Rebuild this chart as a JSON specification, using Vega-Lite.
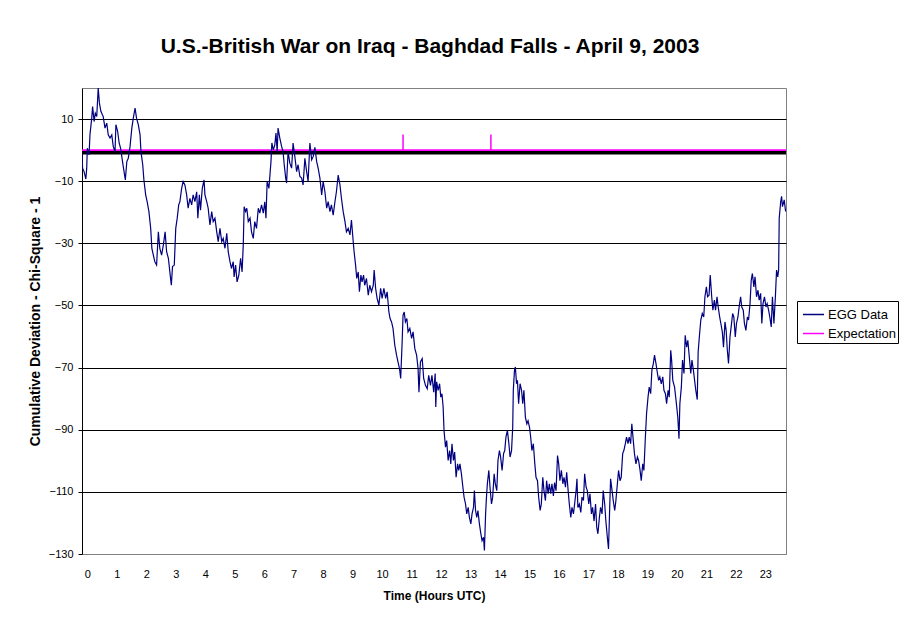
{
"$schema": "https://vega.github.io/schema/vega-lite/v6.json",
"width": 704, "height": 466,
"autosize": {"type": "none"},
"padding": {"left": 82, "top": 88, "right": 125, "bottom": 69},
"background": "white",
"title": {"text": "U.S.-British War on Iraq - Baghdad Falls - April 9, 2003", "font": "Liberation Sans", "fontSize": 21, "fontWeight": "bold", "color": "black", "anchor": "middle", "frame": "group", "baseline": "alphabetic", "offset": 14, "dx": -4},
"config": {
  "view": {"stroke": "#808080", "strokeWidth": 1},
  "font": "Liberation Sans",
  "axis": {"labelFont": "Liberation Sans", "labelFontSize": 11, "labelColor": "black", "titleFont": "Liberation Sans", "titleFontWeight": "bold", "titleColor": "black", "domainColor": "black", "tickColor": "black", "gridColor": "black", "gridOpacity": 1},
  "axisX": {"ticks": false, "grid": false, "domain": false, "labelPadding": 14, "titleFontSize": 12, "titlePadding": 11, "labelAngle": 0, "labelOverlap": false},
  "axisY": {"grid": true, "tickSize": 4, "labelPadding": 5, "titleFontSize": 14, "titlePadding": 6, "domainColor": "black", "labelOverlap": false}
},
"datasets": {
"egg": [
{"hour":-0.18,"value":-1},{"hour":-0.16,"value":-5.8},{"hour":-0.11,"value":-6.9},{"hour":-0.05,"value":-9.3},{"hour":-0.02,"value":-5.8},{"hour":0.0,"value":0.6},{"hour":0.06,"value":-1.5},{"hour":0.09,"value":4.9},{"hour":0.15,"value":10.3},{"hour":0.18,"value":14},
{"hour":0.23,"value":9.2},{"hour":0.27,"value":11.9},{"hour":0.32,"value":10.8},{"hour":0.37,"value":20},{"hour":0.41,"value":15.2},{"hour":0.46,"value":12.5},{"hour":0.54,"value":10.8},{"hour":0.6,"value":7.1},{"hour":0.66,"value":8.7},{"hour":0.71,"value":4.9},
{"hour":0.77,"value":3.9},{"hour":0.83,"value":4.9},{"hour":0.88,"value":1.2},{"hour":0.94,"value":-0.5},{"hour":0.97,"value":8.2},{"hour":1.03,"value":6},{"hour":1.08,"value":2.3},{"hour":1.13,"value":0.6},{"hour":1.17,"value":-2.1},{"hour":1.22,"value":-5.3},
{"hour":1.29,"value":-9.6},{"hour":1.34,"value":-3.7},{"hour":1.39,"value":-2.6},{"hour":1.45,"value":1.2},{"hour":1.51,"value":7.1},{"hour":1.56,"value":10.3},{"hour":1.62,"value":13.5},{"hour":1.67,"value":10.3},{"hour":1.73,"value":8.2},{"hour":1.79,"value":4.9},
{"hour":1.82,"value":-0.5},{"hour":1.88,"value":-4.7},{"hour":1.92,"value":-9.6},{"hour":1.98,"value":-14.4},{"hour":2.03,"value":-16.6},{"hour":2.09,"value":-19.8},{"hour":2.15,"value":-25.2},{"hour":2.19,"value":-31.6},{"hour":2.24,"value":-33.8},{"hour":2.29,"value":-35.9},
{"hour":2.35,"value":-37},{"hour":2.41,"value":-26.3},{"hour":2.46,"value":-31.6},{"hour":2.52,"value":-33.8},{"hour":2.58,"value":-30.5},{"hour":2.64,"value":-26.3},{"hour":2.69,"value":-32.7},{"hour":2.75,"value":-34.8},{"hour":2.8,"value":-39.2},{"hour":2.85,"value":-43.5},
{"hour":2.89,"value":-37.5},{"hour":2.95,"value":-37},{"hour":3.0,"value":-25.2},{"hour":3.05,"value":-21.9},{"hour":3.1,"value":-17.6},{"hour":3.14,"value":-16.6},{"hour":3.2,"value":-12.3},{"hour":3.25,"value":-10.1},{"hour":3.31,"value":-11.2},{"hour":3.37,"value":-14.4},
{"hour":3.42,"value":-18.7},{"hour":3.48,"value":-15.5},{"hour":3.54,"value":-17.6},{"hour":3.59,"value":-14.4},{"hour":3.65,"value":-16.6},{"hour":3.71,"value":-13.4},{"hour":3.75,"value":-21.9},{"hour":3.8,"value":-14.4},{"hour":3.84,"value":-19.3},{"hour":3.9,"value":-12.3},
{"hour":3.96,"value":-9.6},{"hour":3.99,"value":-14.4},{"hour":4.05,"value":-16.6},{"hour":4.1,"value":-18.7},{"hour":4.16,"value":-24.1},{"hour":4.22,"value":-19.8},{"hour":4.27,"value":-23},{"hour":4.33,"value":-21.9},{"hour":4.39,"value":-26.3},{"hour":4.44,"value":-29.5},
{"hour":4.5,"value":-25.2},{"hour":4.56,"value":-29.5},{"hour":4.61,"value":-28.4},{"hour":4.67,"value":-31.6},{"hour":4.73,"value":-26.8},{"hour":4.78,"value":-32.7},{"hour":4.84,"value":-35.9},{"hour":4.89,"value":-38.1},{"hour":4.95,"value":-35.9},{"hour":4.98,"value":-40.8},
{"hour":5.03,"value":-37},{"hour":5.08,"value":-42.4},{"hour":5.14,"value":-40.2},{"hour":5.2,"value":-34.8},{"hour":5.25,"value":-39.2},{"hour":5.29,"value":-30.5},{"hour":5.32,"value":-18.2},{"hour":5.37,"value":-19.8},{"hour":5.41,"value":-18.7},{"hour":5.46,"value":-23},
{"hour":5.52,"value":-21.9},{"hour":5.57,"value":-26.3},{"hour":5.63,"value":-28.4},{"hour":5.68,"value":-23},{"hour":5.74,"value":-25.2},{"hour":5.8,"value":-18.7},{"hour":5.85,"value":-20.3},{"hour":5.91,"value":-17.6},{"hour":5.97,"value":-20.3},{"hour":6.02,"value":-16.6},
{"hour":6.06,"value":-21.9},{"hour":6.1,"value":-10.1},{"hour":6.16,"value":-12.3},{"hour":6.2,"value":-7.4},{"hour":6.23,"value":-3.7},{"hour":6.26,"value":2.3},{"hour":6.31,"value":0.1},{"hour":6.36,"value":1.7},{"hour":6.4,"value":5.5},{"hour":6.44,"value":-0.5},
{"hour":6.47,"value":7.1},{"hour":6.53,"value":3.9},{"hour":6.59,"value":1.2},{"hour":6.64,"value":-0.5},{"hour":6.68,"value":-4.7},{"hour":6.73,"value":-9},{"hour":6.76,"value":-10.6},{"hour":6.81,"value":-0.5},{"hour":6.87,"value":-4.2},{"hour":6.93,"value":-5.8},
{"hour":6.98,"value":2.3},{"hour":7.04,"value":-2.1},{"hour":7.1,"value":-6.9},{"hour":7.15,"value":-4.7},{"hour":7.21,"value":-8.5},{"hour":7.27,"value":-9},{"hour":7.32,"value":-11.2},{"hour":7.38,"value":-2.6},{"hour":7.44,"value":-6.9},{"hour":7.49,"value":-10.1},
{"hour":7.55,"value":2.3},{"hour":7.61,"value":-3.1},{"hour":7.66,"value":-2.1},{"hour":7.72,"value":0.9},{"hour":7.78,"value":-3.7},{"hour":7.83,"value":-5.8},{"hour":7.89,"value":-9},{"hour":7.95,"value":-14.4},{"hour":8.0,"value":-10.1},{"hour":8.06,"value":-13.4},
{"hour":8.12,"value":-18.7},{"hour":8.17,"value":-16.6},{"hour":8.23,"value":-19.8},{"hour":8.28,"value":-17.6},{"hour":8.34,"value":-20.9},{"hour":8.4,"value":-16.6},{"hour":8.45,"value":-13.4},{"hour":8.51,"value":-8},{"hour":8.57,"value":-11.2},{"hour":8.62,"value":-15.5},
{"hour":8.68,"value":-19.8},{"hour":8.74,"value":-23},{"hour":8.79,"value":-26.3},{"hour":8.85,"value":-25.2},{"hour":8.91,"value":-27.3},{"hour":8.96,"value":-22.5},{"hour":9.02,"value":-29.5},{"hour":9.05,"value":-32.7},{"hour":9.1,"value":-37},{"hour":9.14,"value":-41.3},
{"hour":9.19,"value":-39.2},{"hour":9.23,"value":-45.6},{"hour":9.28,"value":-40.2},{"hour":9.32,"value":-42.4},{"hour":9.37,"value":-40.2},{"hour":9.41,"value":-43.5},{"hour":9.47,"value":-41.3},{"hour":9.53,"value":-46.7},{"hour":9.58,"value":-43.5},{"hour":9.64,"value":-45.6},
{"hour":9.7,"value":-43.5},{"hour":9.73,"value":-38.6},{"hour":9.78,"value":-44.5},{"hour":9.83,"value":-47.7},{"hour":9.89,"value":-49.9},{"hour":9.95,"value":-44.5},{"hour":10.0,"value":-47.7},{"hour":10.06,"value":-44.5},{"hour":10.12,"value":-47.7},{"hour":10.17,"value":-45.6},
{"hour":10.23,"value":-52.1},{"hour":10.27,"value":-54.2},{"hour":10.32,"value":-55.3},{"hour":10.37,"value":-57.4},{"hour":10.43,"value":-62.8},{"hour":10.49,"value":-66},{"hour":10.54,"value":-68.2},{"hour":10.59,"value":-70.3},{"hour":10.63,"value":-73.5},{"hour":10.68,"value":-61.7},
{"hour":10.71,"value":-53.1},{"hour":10.75,"value":-52.1},{"hour":10.79,"value":-55.3},{"hour":10.84,"value":-54.2},{"hour":10.88,"value":-58.5},{"hour":10.94,"value":-57.4},{"hour":11.0,"value":-60.6},{"hour":11.05,"value":-58.5},{"hour":11.11,"value":-63.9},{"hour":11.17,"value":-66},
{"hour":11.22,"value":-70.3},{"hour":11.25,"value":-77.9},{"hour":11.3,"value":-68.2},{"hour":11.36,"value":-67.1},{"hour":11.41,"value":-73.5},{"hour":11.47,"value":-75.7},{"hour":11.53,"value":-76.8},{"hour":11.58,"value":-72.5},{"hour":11.64,"value":-75.7},{"hour":11.69,"value":-72.5},
{"hour":11.75,"value":-77.9},{"hour":11.8,"value":-71.9},{"hour":11.82,"value":-82.7},{"hour":11.85,"value":-74.6},{"hour":11.9,"value":-77.3},{"hour":11.95,"value":-75.2},{"hour":11.99,"value":-79.5},{"hour":12.03,"value":-78.4},{"hour":12.07,"value":-82.7},{"hour":12.1,"value":-90.2},
{"hour":12.15,"value":-95.6},{"hour":12.19,"value":-93.5},{"hour":12.24,"value":-99.9},{"hour":12.29,"value":-96.7},{"hour":12.33,"value":-101},{"hour":12.37,"value":-94.5},{"hour":12.42,"value":-99.9},{"hour":12.46,"value":-97.2},{"hour":12.51,"value":-105.3},{"hour":12.56,"value":-101},
{"hour":12.6,"value":-103.1},{"hour":12.64,"value":-101},{"hour":12.69,"value":-104.2},{"hour":12.74,"value":-108.5},{"hour":12.78,"value":-111.7},{"hour":12.83,"value":-113.9},{"hour":12.87,"value":-117.1},{"hour":12.92,"value":-115},{"hour":12.96,"value":-118.2},{"hour":13.01,"value":-120.3},
{"hour":13.05,"value":-117.1},{"hour":13.1,"value":-115},{"hour":13.13,"value":-109.6},{"hour":13.17,"value":-116},{"hour":13.21,"value":-118.2},{"hour":13.25,"value":-116},{"hour":13.3,"value":-120.3},{"hour":13.35,"value":-123.5},{"hour":13.39,"value":-125.7},{"hour":13.44,"value":-124.6},
{"hour":13.47,"value":-128.9},{"hour":13.51,"value":-117.1},{"hour":13.54,"value":-111.7},{"hour":13.57,"value":-107.4},{"hour":13.62,"value":-103.1},{"hour":13.66,"value":-108.5},{"hour":13.71,"value":-113.9},{"hour":13.75,"value":-111.7},{"hour":13.8,"value":-104.2},{"hour":13.84,"value":-107.4},
{"hour":13.89,"value":-109.6},{"hour":13.93,"value":-99.9},{"hour":13.98,"value":-96.7},{"hour":14.02,"value":-98.8},{"hour":14.07,"value":-103.1},{"hour":14.12,"value":-97.7},{"hour":14.16,"value":-96.7},{"hour":14.2,"value":-92.4},{"hour":14.25,"value":-90.2},{"hour":14.3,"value":-94.5},
{"hour":14.34,"value":-98.8},{"hour":14.39,"value":-96.7},{"hour":14.43,"value":-89.2},{"hour":14.45,"value":-77.3},{"hour":14.49,"value":-70.9},{"hour":14.52,"value":-69.8},{"hour":14.56,"value":-75.2},{"hour":14.59,"value":-74.1},{"hour":14.63,"value":-81.6},{"hour":14.68,"value":-75.2},
{"hour":14.73,"value":-77.3},{"hour":14.77,"value":-81.6},{"hour":14.81,"value":-77.3},{"hour":14.86,"value":-86},{"hour":14.91,"value":-88.1},{"hour":14.95,"value":-87.1},{"hour":15.0,"value":-89.2},{"hour":15.04,"value":-92.4},{"hour":15.08,"value":-96.7},{"hour":15.13,"value":-94.5},
{"hour":15.18,"value":-101},{"hour":15.22,"value":-105.3},{"hour":15.27,"value":-106.4},{"hour":15.31,"value":-111.7},{"hour":15.36,"value":-116},{"hour":15.4,"value":-113.9},{"hour":15.45,"value":-105.3},{"hour":15.49,"value":-109.6},{"hour":15.54,"value":-112.8},{"hour":15.58,"value":-106.4},
{"hour":15.63,"value":-110.6},{"hour":15.67,"value":-107.4},{"hour":15.72,"value":-110.6},{"hour":15.76,"value":-107.4},{"hour":15.81,"value":-111.3},{"hour":15.85,"value":-107},{"hour":15.9,"value":-109.6},{"hour":15.95,"value":-98.3},{"hour":15.99,"value":-101},{"hour":16.03,"value":-106.4},
{"hour":16.08,"value":-103.1},{"hour":16.13,"value":-107.4},{"hour":16.17,"value":-105.3},{"hour":16.22,"value":-108.5},{"hour":16.26,"value":-103.7},{"hour":16.31,"value":-109.6},{"hour":16.35,"value":-113.9},{"hour":16.4,"value":-118.2},{"hour":16.44,"value":-115},{"hour":16.49,"value":-117.1},
{"hour":16.53,"value":-113.9},{"hour":16.58,"value":-109.6},{"hour":16.61,"value":-105.8},{"hour":16.64,"value":-115},{"hour":16.69,"value":-113.9},{"hour":16.74,"value":-116.6},{"hour":16.78,"value":-111.7},{"hour":16.83,"value":-112.8},{"hour":16.87,"value":-104.2},{"hour":16.92,"value":-108.5},
{"hour":16.96,"value":-109.6},{"hour":17.01,"value":-113.9},{"hour":17.05,"value":-110.6},{"hour":17.1,"value":-117.1},{"hour":17.14,"value":-115},{"hour":17.19,"value":-119.4},{"hour":17.24,"value":-113.9},{"hour":17.28,"value":-121.4},{"hour":17.32,"value":-123.5},{"hour":17.37,"value":-118.2},
{"hour":17.41,"value":-115},{"hour":17.46,"value":-117.1},{"hour":17.5,"value":-109.6},{"hour":17.55,"value":-113.9},{"hour":17.59,"value":-119.4},{"hour":17.64,"value":-124.6},{"hour":17.68,"value":-128.4},{"hour":17.72,"value":-115},{"hour":17.75,"value":-105.8},{"hour":17.8,"value":-109.6},
{"hour":17.84,"value":-112.8},{"hour":17.89,"value":-116},{"hour":17.93,"value":-112.8},{"hour":17.98,"value":-107.4},{"hour":18.02,"value":-103.1},{"hour":18.07,"value":-106.4},{"hour":18.11,"value":-105.3},{"hour":18.16,"value":-97.7},{"hour":18.2,"value":-96.7},{"hour":18.25,"value":-94.5},
{"hour":18.29,"value":-92.4},{"hour":18.34,"value":-94.5},{"hour":18.38,"value":-92.4},{"hour":18.43,"value":-94.5},{"hour":18.47,"value":-88.1},{"hour":18.52,"value":-93.5},{"hour":18.56,"value":-97.7},{"hour":18.61,"value":-101},{"hour":18.66,"value":-98.8},{"hour":18.7,"value":-99.9},
{"hour":18.75,"value":-103.1},{"hour":18.79,"value":-106.4},{"hour":18.84,"value":-101},{"hour":18.88,"value":-103.1},{"hour":18.93,"value":-92.4},{"hour":18.97,"value":-84.8},{"hour":19.02,"value":-79.5},{"hour":19.06,"value":-76.3},{"hour":19.11,"value":-78.4},{"hour":19.15,"value":-70.9},
{"hour":19.2,"value":-68.7},{"hour":19.24,"value":-66},{"hour":19.29,"value":-68.7},{"hour":19.34,"value":-71.9},{"hour":19.38,"value":-74.1},{"hour":19.42,"value":-73},{"hour":19.47,"value":-75.2},{"hour":19.52,"value":-73},{"hour":19.56,"value":-77.3},{"hour":19.61,"value":-78.4},
{"hour":19.65,"value":-81.6},{"hour":19.7,"value":-77.3},{"hour":19.74,"value":-79.5},{"hour":19.79,"value":-64.4},{"hour":19.82,"value":-67.6},{"hour":19.86,"value":-74.1},{"hour":19.92,"value":-76.3},{"hour":19.97,"value":-80.5},{"hour":20.03,"value":-86},{"hour":20.07,"value":-92.9},
{"hour":20.1,"value":-81.6},{"hour":20.15,"value":-76.3},{"hour":20.19,"value":-67.6},{"hour":20.24,"value":-71.9},{"hour":20.28,"value":-59.6},{"hour":20.33,"value":-63.4},{"hour":20.37,"value":-61.2},{"hour":20.42,"value":-66.6},{"hour":20.47,"value":-71.9},{"hour":20.51,"value":-67.6},
{"hour":20.56,"value":-70.9},{"hour":20.6,"value":-74.1},{"hour":20.64,"value":-77.3},{"hour":20.69,"value":-80.3},{"hour":20.72,"value":-65},{"hour":20.77,"value":-59},{"hour":20.81,"value":-54.7},{"hour":20.86,"value":-52.6},{"hour":20.91,"value":-53.7},{"hour":20.95,"value":-47.2},
{"hour":21.0,"value":-44},{"hour":21.04,"value":-47.2},{"hour":21.09,"value":-46.7},{"hour":21.13,"value":-40.2},{"hour":21.18,"value":-47.2},{"hour":21.22,"value":-51.5},{"hour":21.27,"value":-48.3},{"hour":21.31,"value":-51.5},{"hour":21.36,"value":-47.2},{"hour":21.4,"value":-50.5},
{"hour":21.45,"value":-53.7},{"hour":21.49,"value":-55.8},{"hour":21.54,"value":-58.5},{"hour":21.58,"value":-63.4},{"hour":21.63,"value":-55.3},{"hour":21.67,"value":-58},{"hour":21.71,"value":-64.4},{"hour":21.75,"value":-68.7},{"hour":21.8,"value":-60.1},{"hour":21.84,"value":-56.9},
{"hour":21.89,"value":-52.6},{"hour":21.93,"value":-53.7},{"hour":21.98,"value":-60.1},{"hour":22.02,"value":-55.8},{"hour":22.07,"value":-53.7},{"hour":22.11,"value":-50.5},{"hour":22.16,"value":-47.2},{"hour":22.2,"value":-50.5},{"hour":22.25,"value":-51.5},{"hour":22.29,"value":-55.8},
{"hour":22.34,"value":-58},{"hour":22.39,"value":-53.7},{"hour":22.43,"value":-54.7},{"hour":22.48,"value":-49.4},{"hour":22.52,"value":-41.9},{"hour":22.56,"value":-39.7},{"hour":22.61,"value":-44},{"hour":22.65,"value":-40.8},{"hour":22.7,"value":-47.2},{"hour":22.75,"value":-45.1},
{"hour":22.79,"value":-48.3},{"hour":22.84,"value":-46.1},{"hour":22.88,"value":-55.8},{"hour":22.92,"value":-49.4},{"hour":22.97,"value":-47.2},{"hour":23.02,"value":-50.5},{"hour":23.06,"value":-49.4},{"hour":23.11,"value":-51.5},{"hour":23.15,"value":-53.7},{"hour":23.2,"value":-56.9},
{"hour":23.24,"value":-47.2},{"hour":23.29,"value":-55.8},{"hour":23.34,"value":-47.2},{"hour":23.38,"value":-38.6},{"hour":23.42,"value":-40.8},{"hour":23.45,"value":-38.6},{"hour":23.47,"value":-21.9},{"hour":23.52,"value":-16.6},{"hour":23.55,"value":-14.9},{"hour":23.58,"value":-18.2},
{"hour":23.64,"value":-16},{"hour":23.68,"value":-19.3},{"hour":23.7,"value":-19.8}
],
"expect": [{"hour": -0.18, "value": 0}, {"hour": 23.7, "value": 0}],
"marks": [{"hour": 10.71, "value": 5}, {"hour": 13.69, "value": 5}]
},
"layer": [
{
  "data": {"values": [{"axisline": "x"}]},
  "mark": {"type": "rule", "color": "black", "strokeWidth": 4},
  "encoding": {
    "y": {"datum": -0.75, "type": "quantitative", "scale": {"domain": [-130, 20], "nice": false, "zero": false},
          "axis": {"values": [-130, -110, -90, -70, -50, -30, -10, 10], "title": "Cumulative Deviation - Chi-Square - 1", "gridColor": {"condition": {"test": "datum.value === -130", "value": "#808080"}, "value": "black"}}}
  }
},
{
  "data": {"name": "expect"},
  "mark": {"type": "line", "strokeWidth": 1.8, "clip": true},
  "encoding": {
    "x": {"field": "hour", "type": "quantitative", "scale": {"domain": [-0.18, 23.7], "nice": false, "zero": false},
          "axis": {"values": [0,1,2,3,4,5,6,7,8,9,10,11,12,13,14,15,16,17,18,19,20,21,22,23], "format": "d", "title": "Time (Hours UTC)", "labelOverlap": false}},
    "y": {"field": "value", "type": "quantitative", "scale": {"domain": [-130, 20], "nice": false, "zero": false},
          "axis": {"values": [-130, -110, -90, -70, -50, -30, -10, 10], "title": "Cumulative Deviation - Chi-Square - 1", "gridColor": {"condition": {"test": "datum.value === -130", "value": "#808080"}, "value": "black"}}},
    "color": {"datum": "Expectation", "type": "nominal", "scale": {"domain": ["EGG Data", "Expectation"], "range": ["#000080", "#FF00FF"]},
              "legend": {"orient": "none", "legendX": 715, "legendY": 213, "title": null, "symbolType": "stroke", "symbolSize": 441, "symbolStrokeWidth": 1.5, "labelFont": "Liberation Sans", "labelFontSize": 13, "labelColor": "black", "strokeColor": "black", "fillColor": "white", "padding": 2, "symbolOffset": 3, "labelOffset": 3, "rowPadding": 0}}
  }
},
{
  "data": {"name": "marks"},
  "mark": {"type": "rule", "strokeWidth": 1.5},
  "encoding": {
    "x": {"field": "hour", "type": "quantitative", "scale": {"domain": [-0.18, 23.7], "nice": false, "zero": false},
          "axis": {"values": [0,1,2,3,4,5,6,7,8,9,10,11,12,13,14,15,16,17,18,19,20,21,22,23], "format": "d", "title": "Time (Hours UTC)", "labelOverlap": false}},
    "y": {"field": "value", "type": "quantitative", "scale": {"domain": [-130, 20], "nice": false, "zero": false},
          "axis": {"values": [-130, -110, -90, -70, -50, -30, -10, 10], "title": "Cumulative Deviation - Chi-Square - 1", "gridColor": {"condition": {"test": "datum.value === -130", "value": "#808080"}, "value": "black"}}},
    "y2": {"datum": 0},
    "color": {"datum": "Expectation", "type": "nominal"}
  }
},
{
  "data": {"name": "egg"},
  "mark": {"type": "line", "strokeWidth": 1.2, "clip": true},
  "encoding": {
    "x": {"field": "hour", "type": "quantitative", "scale": {"domain": [-0.18, 23.7], "nice": false, "zero": false},
          "axis": {"values": [0,1,2,3,4,5,6,7,8,9,10,11,12,13,14,15,16,17,18,19,20,21,22,23], "format": "d", "title": "Time (Hours UTC)", "labelOverlap": false}},
    "y": {"field": "value", "type": "quantitative", "scale": {"domain": [-130, 20], "nice": false, "zero": false},
          "axis": {"values": [-130, -110, -90, -70, -50, -30, -10, 10], "title": "Cumulative Deviation - Chi-Square - 1", "gridColor": {"condition": {"test": "datum.value === -130", "value": "#808080"}, "value": "black"}}},
    "color": {"datum": "EGG Data", "type": "nominal"}
  }
}
]
}
